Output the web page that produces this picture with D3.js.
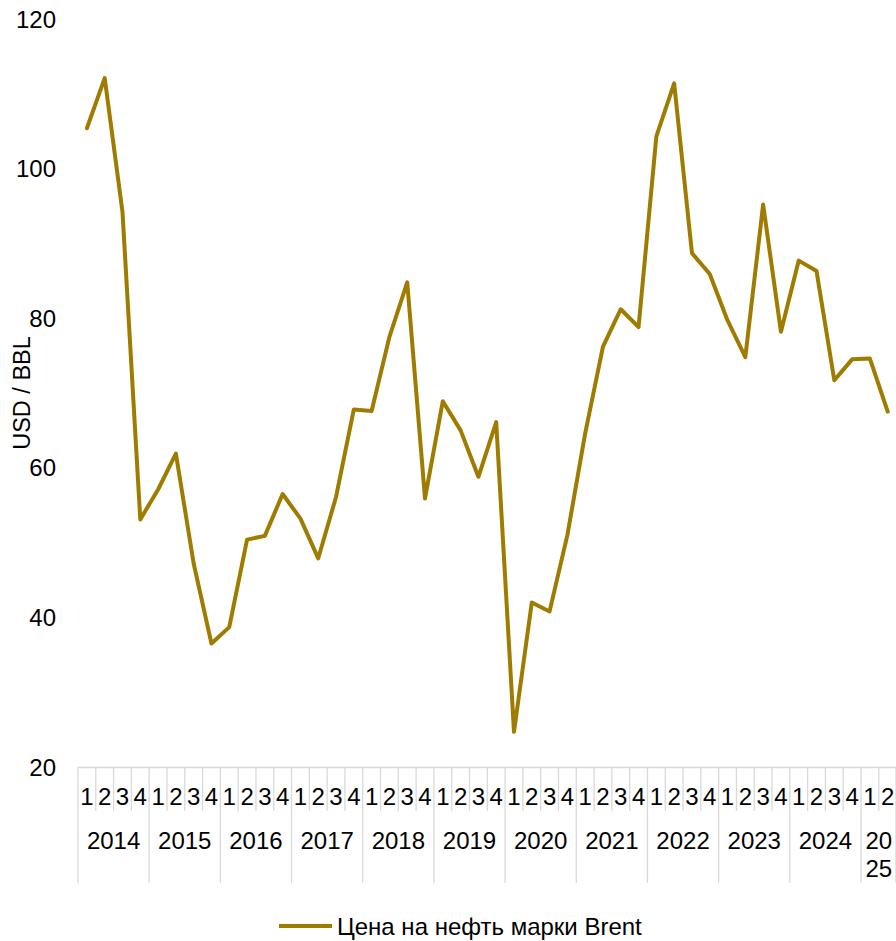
<!DOCTYPE html>
<html><head><meta charset="utf-8">
<script src="https://cdn.jsdelivr.net/npm/d3@7"></script>
<style>
html,body{margin:0;padding:0;background:#fff;}
text{font-family:"Liberation Sans",Arial,sans-serif;fill:#000;}
</style></head>
<body>
<svg id="chart" width="896" height="941"></svg>
<script>
const years = ["2014","2015","2016","2017","2018","2019","2020","2021","2022","2023","2024","2025"];
const quarterLabels = ["1","2","3","4"];
const values = [
  105.4,112.1,94.2,53.1,
  57.1,61.9,47.2,36.5,
  38.7,50.4,50.9,56.5,
  53.2,47.9,56.1,67.8,
  67.6,77.5,84.8,55.9,
  68.9,65.0,58.8,66.1,
  24.7,42.0,40.8,51.0,
  64.6,76.2,81.2,78.8,
  104.3,111.4,88.7,85.9,
  79.7,74.8,95.2,78.2,
  87.7,86.3,71.7,74.5,
  74.6,67.5
];
const yTicks = [20,40,60,80,100,120];
const seriesName = "Цена на нефть марки Brent";
const yTitle = "USD / BBL";

// build quarter categories
const cats = values.map((v,i)=>({key:years[Math.floor(i/4)]+"Q"+(i%4+1), year:years[Math.floor(i/4)], q:quarterLabels[i%4], v}));

const svg = d3.select("#chart");
const x = d3.scaleBand().domain(cats.map(d=>d.key)).range([78, 896.6]).padding(0);
const y = d3.scaleLinear().domain([20,120]).range([767, 19]);
const grid = "#d9d9d9";
const fs = 24;

// y tick labels
svg.append("g").selectAll("text").data(yTicks).join("text")
  .attr("x", 56).attr("y", d=>y(d)+8.5)
  .attr("text-anchor","end").style("font-size",fs+"px").text(d=>d);

// y title
svg.append("text").attr("transform","translate(30,393) rotate(-90)")
  .attr("text-anchor","middle").style("font-size","23.5px").text(yTitle);

// x axis line
svg.append("line").attr("x1",78).attr("x2",896.6).attr("y1",767.5).attr("y2",767.5)
  .attr("stroke",grid).attr("stroke-width",1.5);

// quarter separators
const gx = svg.append("g");
cats.forEach((d,i)=>{
  const x0 = x(d.key);
  const isYear = i%4===0;
  gx.append("line").attr("x1",x0).attr("x2",x0).attr("y1",767).attr("y2",isYear?883:811)
    .attr("stroke",grid).attr("stroke-width",1.3);
});
gx.append("line").attr("x1",896).attr("x2",896).attr("y1",767).attr("y2",883).attr("stroke",grid).attr("stroke-width",1.3);

// quarter labels
gx.selectAll("text.q").data(cats).join("text").attr("class","q")
  .attr("x", d=>x(d.key)+x.bandwidth()/2).attr("y",804.5)
  .attr("text-anchor","middle").style("font-size",fs+"px").text(d=>d.q);

// year labels
years.forEach(yr=>{
  const qs = cats.filter(c=>c.year===yr);
  const x0 = x(qs[0].key), x1 = x(qs[qs.length-1].key)+x.bandwidth();
  const cx = (x0+x1)/2;
  if (qs.length===4) {
    gx.append("text").attr("x",cx).attr("y",848.5).attr("text-anchor","middle").style("font-size",fs+"px").text(yr);
  } else {
    gx.append("text").attr("x",cx).attr("y",848.5).attr("text-anchor","middle").style("font-size",fs+"px").text(yr.slice(0,2));
    gx.append("text").attr("x",cx).attr("y",876.5).attr("text-anchor","middle").style("font-size",fs+"px").text(yr.slice(2));
  }
});

// line
const color = "#9F7C00";
const line = d3.line().x(d=>x(d.key)+x.bandwidth()/2).y(d=>y(d.v));
svg.append("path").datum(cats).attr("d",line).attr("fill","none")
  .attr("stroke",color).attr("stroke-width",4).attr("stroke-linejoin","round").attr("stroke-linecap","round");

// legend
svg.append("line").attr("x1",279).attr("x2",332).attr("y1",926).attr("y2",926)
  .attr("stroke",color).attr("stroke-width",4);
svg.append("text").attr("x",337).attr("y",934.5).style("font-size","24px").text(seriesName);
</script>
</body></html>
